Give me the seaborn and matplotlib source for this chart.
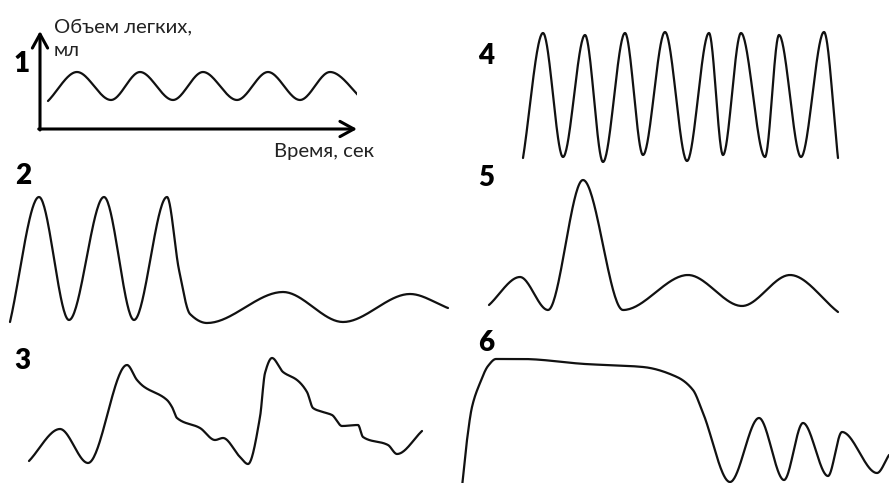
import numpy as np
import pandas as pd
import matplotlib
matplotlib.use("Agg")
import matplotlib.pyplot as plt
import seaborn as sns

# ---- breathing patterns: key points (time, lung volume) of each trace ----
t1 = [8, 37, 71, 100, 133, 163, 197, 228, 260, 290, 324]
v1 = [28, 57, 29, 57, 29, 57, 29, 57, 29, 57, 28]

t2 = [10, 39, 69, 104, 134, 167, 179, 190, 207, 283, 343, 410, 448]
v2 = [8, 133, 10, 133, 10, 133, 60, 16, 7, 38, 8, 36, 22]

t3 = [29, 60, 88, 127, 137, 143, 167, 172, 177, 200, 215, 223, 240, 248,
      260, 265, 272, 283, 297, 307, 313, 323, 332, 342, 358, 363, 388, 397, 422]
v3 = [9, 41, 7, 105, 90, 84, 70, 63, 52, 42, 30, 32, 13, 6,
      53, 97, 112, 98, 90, 78, 62, 58, 55, 44, 45, 33, 25, 16, 39]

t4 = [53, 73, 93, 115, 133, 155, 173, 195, 217, 239, 253, 271, 295, 309, 331, 354, 368]
v4 = [12, 137, 13, 135, 8, 137, 15, 138, 9, 137, 15, 137, 13, 135, 13, 138, 12]

t5 = [19, 50, 78, 113, 153, 218, 272, 320, 368]
v5 = [15, 43, 10, 140, 10, 45, 14, 45, 8]

t6 = [12, 17, 22, 30, 38, 46, 72, 135, 193, 227, 243, 253, 280, 309, 334, 353, 378, 392, 427, 439]
v6 = [-4, 43, 76, 100, 117, 124, 124, 119, 116, 106, 93, 70, 1, 65, 3, 60, 7, 51, 10, 28]

panel_labels = ["1", "2", "3", "4", "5", "6"]
y_axis_label = ["Объем легких,", "мл"]
x_axis_label = "Время, сек"

W, H = 889, 483


def smooth_trace(x, y, per_seg=40):
    """Shape-preserving cubic (monotone Hermite) through the key points."""
    x = np.asarray(x, float)
    y = np.asarray(y, float)
    h = np.diff(x)
    d = np.diff(y) / h
    m = np.zeros_like(y)
    m[0], m[-1] = d[0], d[-1]
    for k in range(1, len(x) - 1):
        if d[k - 1] * d[k] > 0:
            w1 = 2 * h[k] + h[k - 1]
            w2 = h[k] + 2 * h[k - 1]
            m[k] = (w1 + w2) / (w1 / d[k - 1] + w2 / d[k])
    xs, ys = [], []
    for k in range(len(x) - 1):
        s = np.linspace(0, 1, per_seg, endpoint=(k == len(x) - 2))
        h00 = 2 * s**3 - 3 * s**2 + 1
        h10 = s**3 - 2 * s**2 + s
        h01 = -2 * s**3 + 3 * s**2
        h11 = s**3 - s**2
        xs.append(x[k] + s * h[k])
        ys.append(h00 * y[k] + h10 * h[k] * m[k] + h01 * y[k + 1] + h11 * h[k] * m[k + 1])
    return pd.DataFrame({"time": np.concatenate(xs), "volume": np.concatenate(ys)})


sns.set_theme(style="white")
plt.rcParams["font.family"] = ["Lato", "DejaVu Sans"]

fig = plt.figure(figsize=(W / 100, H / 100), dpi=100)
fig.patch.set_facecolor("white")


def panel(left, top, right, bottom):
    ax = fig.add_axes([left / W, 1 - bottom / H, (right - left) / W, (bottom - top) / H])
    ax.set_xlim(0, right - left)
    ax.set_ylim(0, bottom - top)
    ax.axis("off")
    return ax


traces = [
    ((40, 31, 357, 129), t1, v1),
    ((0, 190, 450, 330), t2, v2),
    ((0, 350, 450, 470), t3, v3),
    ((470, 20, 889, 170), t4, v4),
    ((470, 170, 889, 320), t5, v5),
    ((450, 340, 889, 483), t6, v6),
]

axes = []
for box, t, v in traces:
    ax = panel(*box)
    df = smooth_trace(t, v)
    sns.lineplot(data=df, x="time", y="volume", ax=ax, color="#111111",
                 linewidth=1.6, sort=False, estimator=None)
    ax.set_xlabel("")
    ax.set_ylabel("")
    axes.append(ax)

# coordinate arrows of the first panel
ax1 = axes[0]
arrow = dict(arrowstyle="->,head_length=1.0,head_width=0.55", lw=2.2, color="black",
             shrinkA=0, shrinkB=0, mutation_scale=10)
ax1.annotate("", xy=(1, 0), xytext=(-0.004, 0), xycoords="axes fraction",
             arrowprops=arrow, annotation_clip=False)
ax1.annotate("", xy=(0, 1), xytext=(0, -0.01), xycoords="axes fraction",
             arrowprops=arrow, annotation_clip=False)

for line, base in zip(y_axis_label, (32, 56)):
    fig.text(54 / W, 1 - base / H, line, fontsize=14.6, color="#222222",
             ha="left", va="baseline")
fig.text(274 / W, 1 - 157 / H, x_axis_label, fontsize=14.6, color="#222222",
         ha="left", va="baseline")

label_pos = [(22, 64), (23, 176), (22, 361), (486, 56), (486, 178), (486, 343)]
for lab, (px, py) in zip(panel_labels, label_pos):
    fig.text(px / W, 1 - py / H, lab, fontsize=20, fontweight="heavy",
             color="black", ha="center", va="center")

fig.savefig("out.png", dpi=100, facecolor="white")
